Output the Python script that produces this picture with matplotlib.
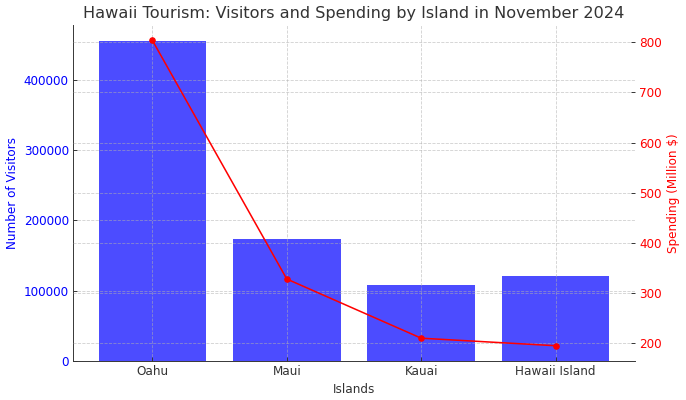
import matplotlib
matplotlib.use("Agg")
import matplotlib.pyplot as plt

# Hawaii tourism, November 2024
islands = ["Oahu", "Maui", "Kauai", "Hawaii Island"]
visitors = [455000, 173500, 108500, 121000]
spending = [804, 328, 210, 195]

# rendered at 86 dpi so fonts and ticks come out at the reference scale
fig = plt.figure(figsize=(686 / 86, 400 / 86), dpi=86)
ax1 = fig.add_axes([0.1064, 0.0975, 0.8193, 0.84])

# bars for visitors on the left axis
ax1.bar(islands, visitors, color="blue", alpha=0.7, width=0.8)
ax1.set_xlabel("Islands", color="#333333")
ax1.set_ylabel("Number of Visitors", color="blue")
ax1.tick_params(direction="in", colors="#333333", labelcolor="#333333")
ax1.tick_params(axis="y", labelcolor="blue")
ax1.grid(True, linestyle="--", color="#b0b0b0", alpha=0.6, linewidth=0.7)

# spending line on the right axis
ax2 = ax1.twinx()
ax2.plot(islands, spending, color="red", marker="o", markersize=4.5, linewidth=1.3)
ax2.set_ylabel("Spending (Million $)", color="red")
ax2.tick_params(axis="y", direction="in", colors="#333333", labelcolor="red")
ax2.grid(True, linestyle="--", color="#b0b0b0", alpha=0.6, linewidth=0.7)

for a in (ax1, ax2):
    a.spines["top"].set_visible(False)
    a.spines["right"].set_visible(False)
ax1.spines["left"].set_color("#333333")
ax1.spines["bottom"].set_color("#333333")
ax2.spines["left"].set_visible(False)
ax2.spines["bottom"].set_visible(False)

ax1.set_title("Hawaii Tourism: Visitors and Spending by Island in November 2024",
              fontsize=13.5, color="#333333")

fig.savefig("out.png", dpi=86)
